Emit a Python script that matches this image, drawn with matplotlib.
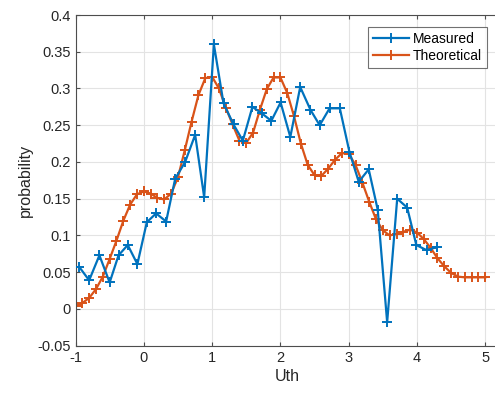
import matplotlib
matplotlib.use("Agg")
import matplotlib.pyplot as plt

plt.rcParams['font.family'] = ['Liberation Sans', 'DejaVu Sans']

measured_x = [-0.944, -0.80, -0.65, -0.50, -0.37, -0.235, -0.094, 0.044, 0.18, 0.327,
              0.459, 0.605, 0.752, 0.884, 1.026, 1.167, 1.314, 1.45, 1.59, 1.73,
              1.867, 2.003, 2.145, 2.29, 2.44, 2.575, 2.72, 2.87, 3.01, 3.147,
              3.293, 3.425, 3.563, 3.71, 3.856, 3.99, 4.14, 4.286]
measured_y = [0.057, 0.039, 0.073, 0.036, 0.073, 0.087, 0.061, 0.118, 0.130, 0.119,
              0.177, 0.200, 0.237, 0.152, 0.360, 0.280, 0.251, 0.229, 0.275, 0.266,
              0.256, 0.281, 0.234, 0.302, 0.271, 0.250, 0.273, 0.273, 0.214, 0.173,
              0.190, 0.135, -0.018, 0.150, 0.138, 0.087, 0.080, 0.084]

theory_x = [round(-1 + 0.1 * i, 1) for i in range(61)]
theory_y = [0.004, 0.008, 0.015, 0.027, 0.044, 0.068, 0.093, 0.120, 0.142, 0.156,
            0.160, 0.157, 0.151, 0.149, 0.157, 0.179, 0.216, 0.255, 0.291, 0.314,
            0.316, 0.300, 0.274, 0.251, 0.229, 0.226, 0.240, 0.271, 0.299, 0.315,
            0.315, 0.294, 0.262, 0.225, 0.196, 0.182, 0.181, 0.191, 0.203, 0.212,
            0.211, 0.196, 0.172, 0.146, 0.122, 0.107, 0.100, 0.102, 0.105, 0.108,
            0.104, 0.095, 0.083, 0.069, 0.058, 0.049, 0.044, 0.043, 0.043, 0.043,
            0.043]

xticks = [-1, 0, 1, 2, 3, 4, 5]
yticks = [-0.05, 0, 0.05, 0.1, 0.15, 0.2, 0.25, 0.3, 0.35, 0.4]
ytick_labels = ['-0.05', '0', '0.05', '0.1', '0.15', '0.2', '0.25', '0.3', '0.35', '0.4']

W, H = 495, 397
fig = plt.figure(figsize=(W / 100, H / 100), dpi=100)
# axes spans x from -1 to 5.2; right edge falls just outside the image
left_px, right_px, top_px, bottom_px = 75.5, 75.5 + 6.2 * 68.3, 15, 345.7
ax = fig.add_axes([left_px / W, 1 - bottom_px / H,
                   (right_px - left_px) / W, (bottom_px - top_px) / H])

ax.plot(measured_x, measured_y, color='#0072BD', lw=1.6, marker='+', ms=7, mew=1.4,
        label='Measured', zorder=3)
ax.plot(theory_x, theory_y, color='#D95319', lw=1.6, marker='+', ms=7, mew=1.4,
        label='Theoretical', zorder=2)

ax.set_xlim(-1, 5.2)
ax.set_ylim(-0.05, 0.4)
ax.set_xticks(xticks)
ax.set_xticklabels([str(t) for t in xticks])
ax.set_yticks(yticks)
ax.set_yticklabels(ytick_labels)
ax.grid(True, color='#e3e3e3', lw=0.8)
ax.set_axisbelow(True)
for s in ax.spines.values():
    s.set_color('#4d4d4d')
    s.set_linewidth(0.8)
ax.tick_params(direction='in', length=3, width=0.8, colors='#4d4d4d',
               labelcolor='#262626', labelsize=10.5, top=True, right=True)
ax.set_xlabel('Uth', fontsize=11.5, color='#262626', labelpad=3)
ax.set_ylabel('probability', fontsize=11.5, color='#262626', labelpad=3)

leg = ax.legend(loc='upper right', fontsize=10, frameon=True, fancybox=False,
                edgecolor='#4d4d4d', borderpad=0.35, handlelength=2.6,
                handletextpad=0.3, labelspacing=0.2, borderaxespad=0,
                bbox_to_anchor=(487 / W, 1 - 27 / H), bbox_transform=fig.transFigure)
leg.get_frame().set_linewidth(0.8)

fig.savefig('out.png', dpi=100)
